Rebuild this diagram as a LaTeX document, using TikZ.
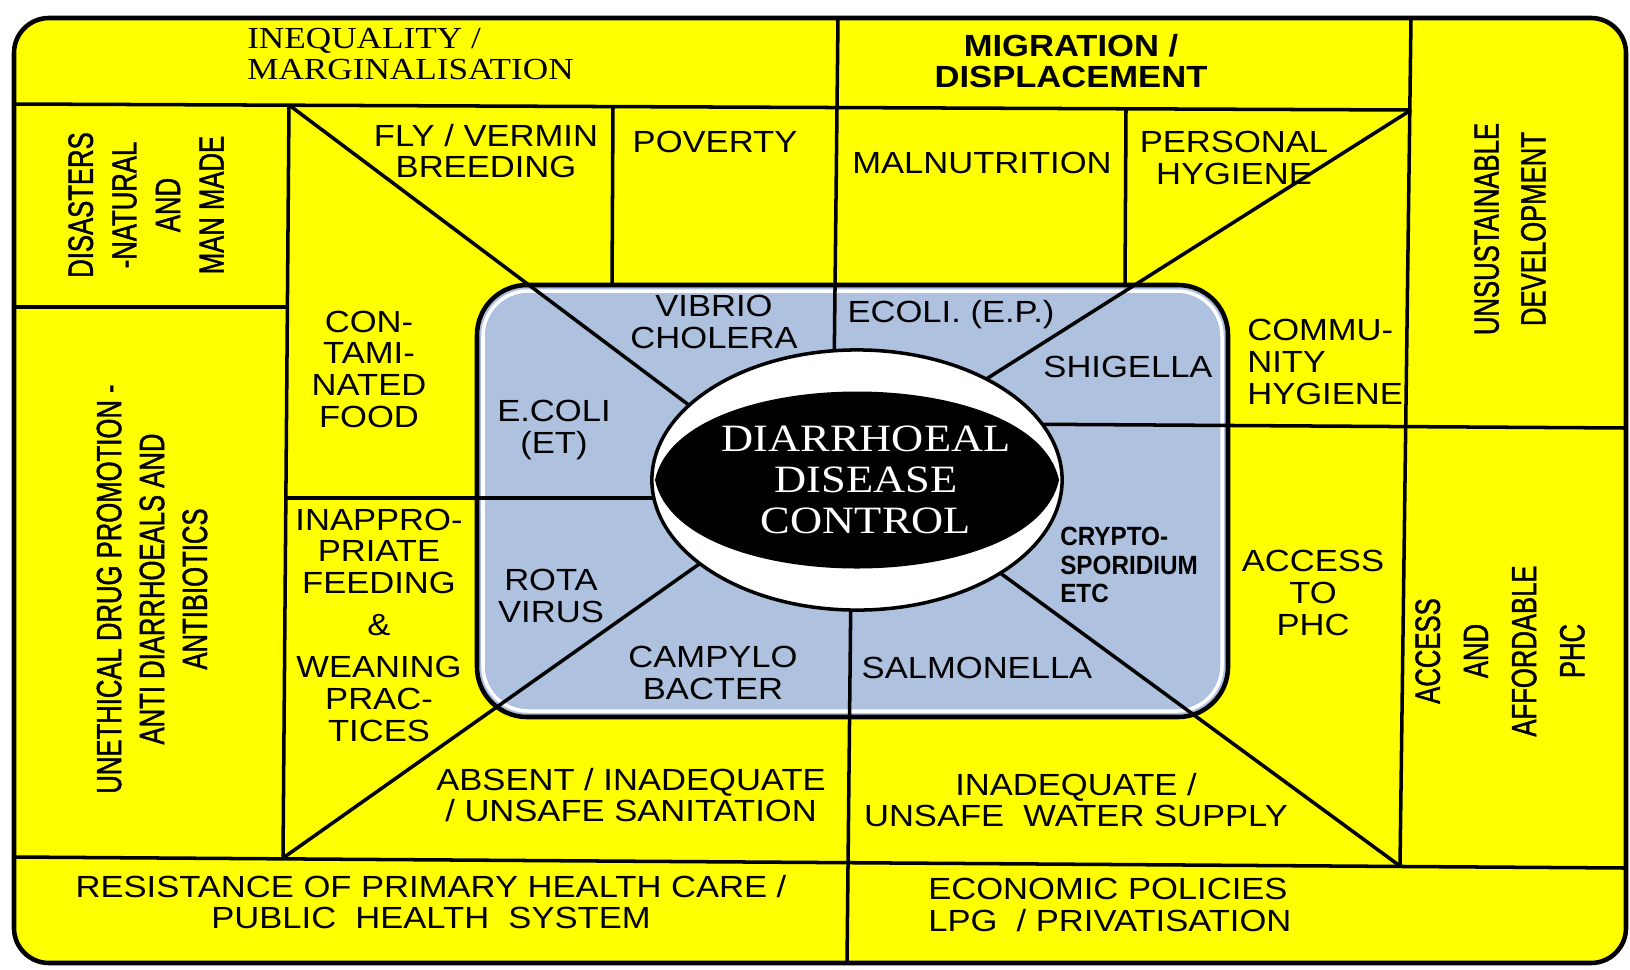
\documentclass[tikz,border=0pt]{standalone}
\usepackage{fontspec}
\setmainfont{Liberation Sans}[FakeStretch=1.13]
\newfontfamily\tallsans{Liberation Sans}[FakeStretch=0.73, FakeBold=1.2]
\newfontfamily\narrowsans{Liberation Sans}[FakeStretch=0.92]
\newfontfamily\titleserif{Liberation Serif}[FakeStretch=1.15]
\usetikzlibrary{shapes.geometric}
\definecolor{factoryellow}{RGB}{255,255,0}
\definecolor{agentblue}{RGB}{174,193,222}

\begin{document}
\begin{tikzpicture}[x=0.01cm, y=-0.01cm, line width=1pt,
  factor/.style = {align=center, inner sep=1pt, font=\fontsize{8.7pt}{9pt}\selectfont},
  upright/.style = {rotate=90, align=center, inner sep=1pt},
  hubshape/.style = {ellipse, minimum width=4.1cm, minimum height=2.6cm, inner sep=0pt, outer sep=0pt}]
  \useasboundingbox (0,0) rectangle (1630,969);

  % Board.
  \fill [factoryellow, rounded corners=3.5mm] (14,18) rectangle (1626,963);
  \fill [agentblue, rounded corners=5mm] (477,285) rectangle (1228,717);
  \draw [white, rounded corners=4.5mm] (483,291) rectangle (1222,711);
  \draw [line width=1.3pt, rounded corners=5mm] (477,285) rectangle (1228,717);
  \node at (857,480) [hubshape, name=Hub] {};

  % Partitions.
  \draw (14,104) -- (1411,110);
  \draw (1411,18) -- (1400,866);
  \draw (838,18) -- (834,380);
  \draw (289,105) -- (283,858);
  \draw (14,307) -- (289,307);
  \draw (14,857) -- (1626,868);
  \draw (851,580) -- (847,963);
  \draw (613,106) -- (612,286);
  \draw (1126,109) -- (1125,287);
  \draw (287,498) -- (700,498);
  \draw (1000,424) -- (1626,428);

  % Diagonals.
  \draw (289,105) -- (Hub.156);
  \draw (1411,110) -- (Hub.38);
  \draw (283,858) -- (Hub.208);
  \draw (1400,866) -- (Hub.-33);

  % Centre.
  \node at (Hub) [hubshape, draw, fill=white, name=HubRing] {};
  \fill (655,480) .. controls (680,362) and (1034,362) .. (1059,480)
        .. controls (1034,598) and (680,598) .. (655,480);
  \node at (866,480) [align=center, text=white, font=\titleserif\fontsize{11pt}{11.7pt}\selectfont, name=Control]
        {DIARRHOEAL\\DISEASE\\CONTROL};

  % Outer factors.
  \node at (242,54) [factor, anchor=west, align=left, font=\titleserif\fontsize{8.7pt}{9pt}\selectfont, name=Inequality]
        {INEQUALITY /\\MARGINALISATION};
  \node at (1071,61) [factor, font=\bfseries\fontsize{8.7pt}{9pt}\selectfont, name=Migration]
        {MIGRATION /\\DISPLACEMENT};
  \node at (146,205) [upright, font=\tallsans\fontsize{10pt}{12.4pt}\selectfont, name=Disasters]
        {DISASTERS\\-NATURAL\\AND\\MAN MADE};
  \node at (1510,229) [upright, font=\tallsans\fontsize{10pt}{13.3pt}\selectfont, name=Unsustainable]
        {UNSUSTAINABLE\\DEVELOPMENT};
  \node at (152,589) [upright, font=\tallsans\fontsize{10pt}{12.2pt}\selectfont, name=Unethical]
        {UNETHICAL DRUG PROMOTION -\\ANTI DIARRHOEALS AND\\ANTIBIOTICS};
  \node at (1500,651) [upright, font=\tallsans\fontsize{10pt}{13.7pt}\selectfont, name=Affordable]
        {ACCESS\\AND\\AFFORDABLE\\PHC};
  \node at (431,902) [factor, name=Resistance]
        {RESISTANCE OF PRIMARY HEALTH CARE /\\PUBLIC\ \ HEALTH\ \ SYSTEM};
  \node at (923,905) [factor, anchor=west, align=left, name=Economic]
        {ECONOMIC POLICIES\\LPG\ \ / PRIVATISATION};

  % Inner factors.
  \node at (486,151) [factor, name=FlyVermin] {FLY / VERMIN\\BREEDING};
  \node at (715,142) [factor, name=Poverty] {POVERTY};
  \node at (982,163) [factor, name=Malnutrition] {MALNUTRITION};
  \node at (1234,158) [factor, name=PersonalHygiene] {PERSONAL\\HYGIENE};
  \node at (369,369) [factor, name=ContaminatedFood] {CON-\\TAMI-\\NATED\\FOOD};
  \node at (1242,362) [factor, anchor=west, align=left, name=CommunityHygiene] {COMMU-\\NITY\\HYGIENE};
  \node at (379,625) [factor, name=Feeding]
        {INAPPRO-\\PRIATE\\FEEDING\\[3pt]\&\\[3pt]WEANING\\PRAC-\\TICES};
  \node at (1313,593) [factor, name=AccessPhc] {ACCESS\\TO\\PHC};
  \node at (631,795) [factor, name=Sanitation] {ABSENT / INADEQUATE\\/ UNSAFE SANITATION};
  \node at (1076,800) [factor, name=WaterSupply] {INADEQUATE /\\UNSAFE\ \ WATER SUPPLY};

  % Agents.
  \node at (714,322) [factor, name=Vibrio] {VIBRIO\\CHOLERA};
  \node at (951,315) [factor, name=EcoliEP] {ECOLI. (E.P.)};
  \node at (1128,367) [factor, name=Shigella] {SHIGELLA};
  \node at (554,430) [factor, name=EcoliET] {E.COLI\\(ET)};
  \node at (551,596) [factor, name=Rota] {ROTA\\VIRUS};
  \node at (1055,565) [factor, anchor=west, align=left, font=\narrowsans\bfseries\fontsize{7.5pt}{8pt}\selectfont, name=Crypto]
        {CRYPTO-\\SPORIDIUM\\ETC};
  \node at (713,673) [factor, name=Campylo] {CAMPYLO\\BACTER};
  \node at (977,668) [factor, name=Salmonella] {SALMONELLA};

  % Frame.
  \draw [line width=1.3pt, rounded corners=3.5mm] (14,18) rectangle (1626,963);
\end{tikzpicture}
\end{document}
